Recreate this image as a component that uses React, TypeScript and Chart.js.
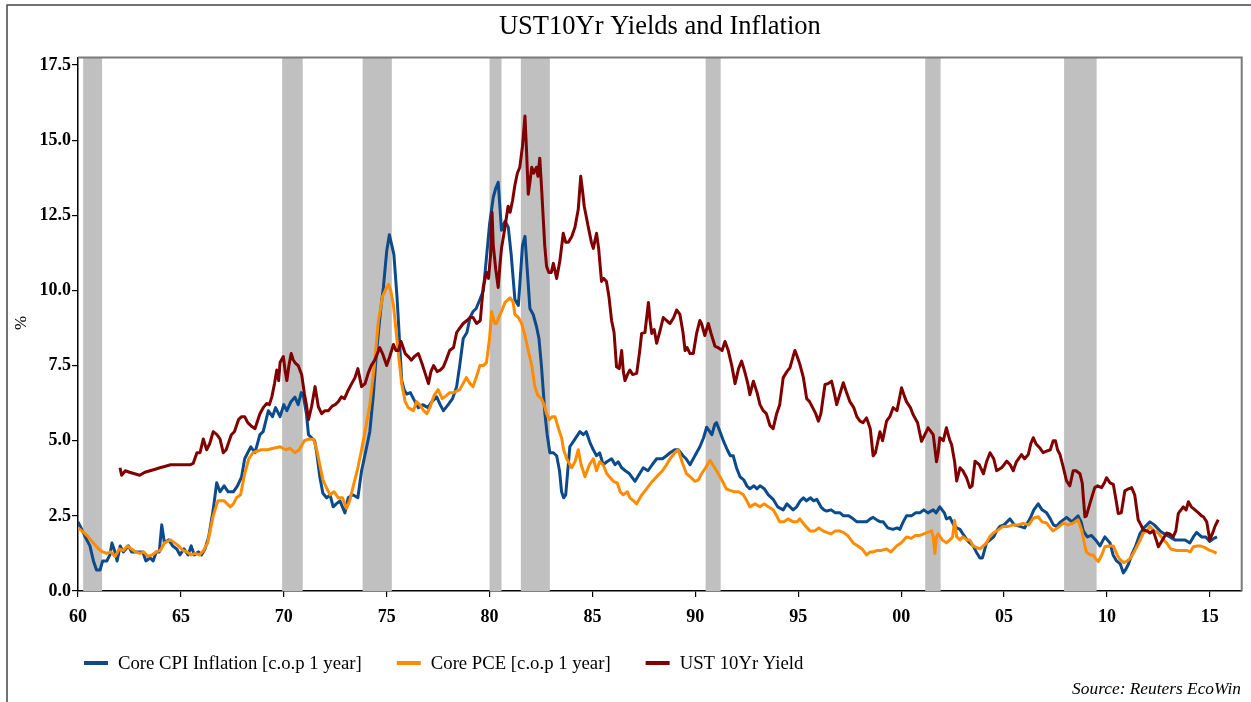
import React, { useEffect, useRef } from "react";
import { Chart, registerables } from "chart.js";

Chart.register(...registerables);

const TITLE = "UST10Yr Yields and Inflation";
const SOURCE = "Source: Reuters EcoWin";
const Y_LABEL = "%";
const SERIES_NAMES = ["Core CPI Inflation [c.o.p 1 year]", "Core PCE [c.o.p 1 year]", "UST 10Yr Yield"];
const SERIES_COLORS = ["#0b4a8b", "#ff8c00", "#800000"];

const xTickYears = [1960, 1965, 1970, 1975, 1980, 1985, 1990, 1995, 2000, 2005, 2010, 2015];
const xTickLabels = ["60", "65", "70", "75", "80", "85", "90", "95", "00", "05", "10", "15"];
const yTickValues = [0, 2.5, 5, 7.5, 10, 12.5, 15, 17.5];
const yTickLabels = ["0.0", "2.5", "5.0", "7.5", "10.0", "12.5", "15.0", "17.5"];

const recessionStarts = [1960.25, 1969.92, 1973.83, 1980.0, 1981.52, 1990.5, 2001.17, 2007.92];
const recessionEnds = [1961.17, 1970.92, 1975.25, 1980.58, 1982.93, 1991.23, 2001.92, 2009.5];

const coreCpi: [number, number][] = [
  [1960.0, 2.3], [1960.15, 2.1], [1960.35, 1.8], [1960.58, 1.5], [1960.75, 1.0], [1960.9, 0.7], [1961.07, 0.7],
  [1961.2, 1.0], [1961.4, 1.0], [1961.55, 1.2], [1961.65, 1.6], [1961.8, 1.3], [1961.9, 1.0], [1962.05, 1.5],
  [1962.2, 1.3], [1962.45, 1.5], [1962.6, 1.3], [1962.9, 1.3], [1963.15, 1.3], [1963.3, 1.0], [1963.5, 1.1],
  [1963.65, 1.0], [1963.8, 1.3], [1963.95, 1.3], [1964.07, 2.2], [1964.2, 1.6], [1964.4, 1.7], [1964.6, 1.5],
  [1964.8, 1.4], [1964.95, 1.2], [1965.15, 1.4], [1965.35, 1.2], [1965.5, 1.5], [1965.65, 1.2], [1965.85, 1.3],
  [1966.0, 1.2], [1966.17, 1.4], [1966.35, 1.8], [1966.57, 2.7], [1966.74, 3.6], [1966.9, 3.3], [1967.1, 3.5],
  [1967.3, 3.3], [1967.55, 3.3], [1967.75, 3.5], [1967.95, 3.8], [1968.1, 4.4], [1968.4, 4.8], [1968.6, 4.6],
  [1968.84, 5.2], [1969.0, 5.3], [1969.25, 6.0], [1969.45, 5.8], [1969.6, 6.1], [1969.82, 5.8], [1970.0, 6.2],
  [1970.15, 6.0], [1970.35, 6.3], [1970.54, 6.45], [1970.7, 6.2], [1970.85, 6.6], [1970.95, 6.5], [1971.1, 5.9],
  [1971.2, 5.2], [1971.35, 5.1], [1971.5, 5.0], [1971.6, 4.6], [1971.75, 3.8], [1971.9, 3.25], [1972.08, 3.1],
  [1972.25, 3.2], [1972.4, 2.8], [1972.55, 2.9], [1972.73, 3.0], [1972.85, 2.8], [1972.97, 2.6], [1973.13, 3.1],
  [1973.35, 3.2], [1973.6, 3.1], [1973.78, 4.0], [1974.0, 4.7], [1974.18, 5.3], [1974.35, 6.5], [1974.5, 7.9],
  [1974.7, 9.3], [1974.84, 10.1], [1975.0, 11.3], [1975.13, 11.85], [1975.25, 11.5], [1975.35, 11.2], [1975.5, 9.8],
  [1975.57, 9.0], [1975.73, 7.0], [1975.85, 6.7], [1975.97, 6.55], [1976.15, 6.6], [1976.3, 6.4], [1976.54, 6.1],
  [1976.75, 6.2], [1977.0, 6.1], [1977.2, 6.3], [1977.43, 6.46], [1977.6, 6.2], [1977.76, 6.0], [1977.99, 6.2],
  [1978.2, 6.4], [1978.4, 6.8], [1978.55, 7.5], [1978.72, 8.4], [1978.9, 8.6], [1979.05, 9.1], [1979.2, 9.3],
  [1979.35, 9.4], [1979.53, 9.7], [1979.7, 10.0], [1979.85, 11.1], [1980.0, 12.2], [1980.18, 13.1], [1980.3, 13.4],
  [1980.42, 13.6], [1980.5, 12.8], [1980.58, 12.0], [1980.75, 12.3], [1980.91, 12.1], [1981.05, 11.2], [1981.23, 9.7],
  [1981.4, 9.5], [1981.5, 10.5], [1981.6, 11.5], [1981.72, 11.8], [1981.85, 10.5], [1981.96, 9.4], [1982.12, 9.2],
  [1982.28, 8.8], [1982.4, 8.4], [1982.52, 7.5], [1982.69, 5.9], [1982.8, 5.2], [1982.93, 4.6], [1983.1, 4.6],
  [1983.26, 4.5], [1983.4, 4.0], [1983.5, 3.3], [1983.6, 3.1], [1983.7, 3.2], [1983.8, 4.0], [1983.9, 4.8],
  [1984.1, 5.0], [1984.39, 5.3], [1984.55, 5.2], [1984.7, 5.3], [1984.9, 4.9], [1985.04, 4.7], [1985.2, 4.5],
  [1985.35, 4.6], [1985.52, 4.2], [1985.7, 4.3], [1985.93, 4.4], [1986.1, 4.2], [1986.25, 4.3], [1986.42, 4.1],
  [1986.6, 4.0], [1986.8, 3.9], [1987.07, 3.65], [1987.2, 3.8], [1987.47, 4.1], [1987.7, 4.0], [1987.9, 4.2],
  [1988.12, 4.4], [1988.4, 4.4], [1988.6, 4.5], [1988.77, 4.6], [1989.0, 4.7], [1989.17, 4.7], [1989.4, 4.5],
  [1989.55, 4.4], [1989.74, 4.2], [1989.9, 4.4], [1990.06, 4.6], [1990.22, 4.8], [1990.4, 5.1], [1990.55, 5.45],
  [1990.7, 5.3], [1990.8, 5.2], [1990.95, 5.55], [1991.03, 5.6], [1991.2, 5.3], [1991.36, 5.0], [1991.55, 4.7],
  [1991.7, 4.5], [1991.84, 4.5], [1992.0, 4.1], [1992.17, 3.8], [1992.35, 3.7], [1992.5, 3.5], [1992.65, 3.4],
  [1992.85, 3.5], [1993.0, 3.4], [1993.14, 3.5], [1993.35, 3.4], [1993.55, 3.2], [1993.78, 3.05], [1994.0, 2.8],
  [1994.27, 2.7], [1994.45, 2.9], [1994.6, 2.8], [1994.75, 2.7], [1994.92, 2.8], [1995.1, 3.0], [1995.25, 3.1],
  [1995.4, 3.0], [1995.6, 3.1], [1995.75, 3.0], [1995.9, 3.05], [1996.1, 2.8], [1996.25, 2.7], [1996.38, 2.66],
  [1996.6, 2.7], [1996.8, 2.6], [1997.03, 2.6], [1997.2, 2.5], [1997.45, 2.5], [1997.67, 2.4], [1997.85, 2.3],
  [1998.1, 2.3], [1998.32, 2.3], [1998.5, 2.4], [1998.64, 2.45], [1998.85, 2.35], [1999.0, 2.3], [1999.13, 2.3],
  [1999.35, 2.1], [1999.6, 2.05], [1999.8, 2.1], [1999.94, 2.05], [2000.1, 2.3], [2000.26, 2.5], [2000.5, 2.5],
  [2000.7, 2.6], [2000.91, 2.6], [2001.1, 2.7], [2001.3, 2.6], [2001.56, 2.7], [2001.7, 2.6], [2001.88, 2.8],
  [2002.1, 2.6], [2002.2, 2.4], [2002.37, 2.45], [2002.55, 2.2], [2002.7, 2.1], [2002.86, 2.05], [2003.0, 1.9],
  [2003.2, 1.7], [2003.34, 1.6], [2003.5, 1.5], [2003.65, 1.3], [2003.83, 1.1], [2003.95, 1.1], [2004.15, 1.6],
  [2004.32, 1.7], [2004.5, 1.8], [2004.64, 2.0], [2004.8, 2.15], [2005.0, 2.2], [2005.29, 2.4], [2005.5, 2.2],
  [2005.77, 2.15], [2006.0, 2.1], [2006.26, 2.4], [2006.45, 2.7], [2006.66, 2.9], [2006.85, 2.7], [2007.07, 2.6],
  [2007.25, 2.4], [2007.4, 2.2], [2007.55, 2.15], [2007.75, 2.3], [2008.04, 2.45], [2008.3, 2.3], [2008.45, 2.4],
  [2008.6, 2.5], [2008.75, 2.3], [2008.85, 2.0], [2009.05, 1.8], [2009.25, 1.85], [2009.45, 1.7], [2009.66, 1.5],
  [2009.9, 1.8], [2010.15, 1.6], [2010.3, 1.2], [2010.47, 1.0], [2010.65, 0.9], [2010.8, 0.6], [2010.9, 0.7],
  [2011.05, 0.9], [2011.2, 1.2], [2011.4, 1.5], [2011.6, 1.9], [2011.8, 2.1], [2012.09, 2.3], [2012.3, 2.2],
  [2012.58, 2.0], [2012.8, 1.9], [2013.06, 1.8], [2013.3, 1.7], [2013.55, 1.7], [2013.8, 1.7], [2014.03, 1.6],
  [2014.2, 1.8], [2014.36, 1.95], [2014.6, 1.8], [2014.8, 1.8], [2015.0, 1.65], [2015.2, 1.75], [2015.35, 1.8],
];

const corePce: [number, number][] = [
  [1960.0, 2.1], [1960.2, 2.0], [1960.5, 1.8], [1960.75, 1.6], [1961.0, 1.4], [1961.2, 1.3], [1961.4, 1.25],
  [1961.6, 1.3], [1961.8, 1.15], [1962.0, 1.4], [1962.2, 1.35], [1962.4, 1.5], [1962.6, 1.4], [1962.8, 1.3],
  [1963.0, 1.25], [1963.2, 1.3], [1963.4, 1.15], [1963.6, 1.2], [1963.8, 1.3], [1964.0, 1.35], [1964.2, 1.6],
  [1964.5, 1.7], [1964.7, 1.6], [1964.9, 1.5], [1965.1, 1.35], [1965.3, 1.3], [1965.5, 1.2], [1965.7, 1.25],
  [1965.9, 1.2], [1966.1, 1.35], [1966.3, 1.6], [1966.57, 2.5], [1966.8, 3.0], [1967.1, 3.0], [1967.4, 2.8],
  [1967.55, 2.9], [1967.7, 3.1], [1967.9, 3.2], [1968.1, 3.9], [1968.3, 4.4], [1968.5, 4.6], [1968.9, 4.7],
  [1969.2, 4.7], [1969.5, 4.75], [1969.82, 4.8], [1970.1, 4.7], [1970.3, 4.75], [1970.54, 4.6], [1970.75, 4.7],
  [1971.0, 5.0], [1971.2, 5.05], [1971.45, 5.05], [1971.6, 4.7], [1971.75, 4.2], [1971.9, 3.7], [1972.1, 3.4],
  [1972.25, 3.2], [1972.45, 3.3], [1972.65, 3.1], [1972.85, 3.1], [1973.05, 2.75], [1973.2, 3.0], [1973.38, 3.5],
  [1973.6, 4.1], [1973.78, 4.7], [1974.0, 5.5], [1974.18, 6.2], [1974.4, 7.5], [1974.6, 9.0], [1974.8, 9.8],
  [1975.0, 10.1], [1975.1, 10.2], [1975.2, 10.0], [1975.33, 9.5], [1975.45, 8.7], [1975.57, 7.9], [1975.73, 6.9],
  [1975.9, 6.3], [1976.05, 6.1], [1976.3, 6.0], [1976.45, 6.3], [1976.6, 6.2], [1976.8, 6.0], [1976.95, 5.9],
  [1977.1, 6.1], [1977.3, 6.5], [1977.5, 6.7], [1977.7, 6.4], [1977.9, 6.5], [1978.06, 6.6], [1978.25, 6.6],
  [1978.55, 6.7], [1978.87, 7.1], [1979.05, 6.9], [1979.2, 6.8], [1979.4, 7.2], [1979.53, 7.5], [1979.7, 7.5],
  [1979.85, 7.6], [1980.0, 8.4], [1980.1, 9.3], [1980.25, 8.9], [1980.34, 8.9], [1980.45, 9.1], [1980.58, 9.3],
  [1980.75, 9.6], [1980.9, 9.7], [1981.0, 9.75], [1981.15, 9.6], [1981.23, 9.2], [1981.4, 9.1], [1981.56, 8.9],
  [1981.72, 8.5], [1981.88, 8.0], [1982.05, 7.5], [1982.2, 6.8], [1982.35, 6.5], [1982.52, 6.4], [1982.65, 6.2],
  [1982.77, 5.9], [1982.9, 5.7], [1983.05, 5.8], [1983.18, 5.8], [1983.35, 5.4], [1983.5, 5.1], [1983.6, 4.7],
  [1983.75, 4.4], [1983.99, 4.1], [1984.15, 4.3], [1984.31, 4.7], [1984.45, 4.2], [1984.64, 3.8], [1984.85, 4.2],
  [1985.04, 4.4], [1985.2, 4.0], [1985.35, 4.3], [1985.52, 4.2], [1985.7, 3.9], [1986.01, 3.65], [1986.2, 3.6],
  [1986.35, 3.3], [1986.5, 3.2], [1986.7, 3.3], [1986.82, 3.1], [1987.0, 3.0], [1987.15, 2.9], [1987.4, 3.2],
  [1987.63, 3.4], [1987.85, 3.6], [1988.12, 3.8], [1988.4, 4.0], [1988.6, 4.2], [1988.77, 4.4], [1989.0, 4.6],
  [1989.17, 4.7], [1989.35, 4.3], [1989.57, 3.9], [1989.75, 3.8], [1989.98, 3.65], [1990.15, 3.7], [1990.3, 3.9],
  [1990.5, 4.1], [1990.71, 4.35], [1990.85, 4.2], [1991.03, 4.0], [1991.2, 3.8], [1991.36, 3.6], [1991.5, 3.4],
  [1991.68, 3.35], [1991.9, 3.3], [1992.1, 3.3], [1992.33, 3.2], [1992.5, 3.0], [1992.65, 2.8], [1992.9, 2.9],
  [1993.14, 2.8], [1993.35, 2.9], [1993.55, 2.8], [1993.78, 2.7], [1993.95, 2.5], [1994.1, 2.3], [1994.3, 2.3],
  [1994.5, 2.4], [1994.76, 2.3], [1994.95, 2.3], [1995.08, 2.4], [1995.3, 2.2], [1995.57, 2.0], [1995.8, 2.0],
  [1996.0, 2.1], [1996.2, 2.0], [1996.38, 1.95], [1996.6, 1.9], [1996.8, 2.0], [1997.0, 2.0], [1997.19, 1.95],
  [1997.4, 1.85], [1997.67, 1.6], [1997.9, 1.5], [1998.1, 1.4], [1998.32, 1.2], [1998.5, 1.3], [1998.64, 1.3],
  [1998.85, 1.35], [1999.05, 1.35], [1999.29, 1.4], [1999.5, 1.3], [1999.78, 1.5], [2000.0, 1.6], [2000.26, 1.8],
  [2000.5, 1.75], [2000.7, 1.85], [2000.91, 1.85], [2001.1, 1.9], [2001.3, 1.95], [2001.48, 2.0], [2001.56, 1.8],
  [2001.64, 1.25], [2001.72, 1.8], [2001.8, 1.9], [2002.0, 1.7], [2002.2, 1.6], [2002.37, 1.7], [2002.5, 1.8],
  [2002.6, 2.35], [2002.7, 1.8], [2002.86, 1.7], [2003.0, 1.8], [2003.2, 1.7], [2003.34, 1.7], [2003.5, 1.5],
  [2003.65, 1.45], [2003.83, 1.4], [2004.0, 1.5], [2004.15, 1.6], [2004.3, 1.8], [2004.48, 1.93], [2004.65, 2.0],
  [2004.96, 2.15], [2005.2, 2.15], [2005.45, 2.2], [2005.7, 2.2], [2005.93, 2.25], [2006.2, 2.2], [2006.42, 2.42],
  [2006.66, 2.47], [2006.85, 2.3], [2007.07, 2.26], [2007.25, 2.1], [2007.39, 2.0], [2007.6, 2.1], [2007.88, 2.26],
  [2008.1, 2.2], [2008.36, 2.26], [2008.6, 2.37], [2008.77, 2.03], [2008.9, 1.6], [2009.0, 1.3], [2009.2, 1.2],
  [2009.33, 1.2], [2009.48, 1.05], [2009.58, 0.98], [2009.75, 1.2], [2009.9, 1.47], [2010.1, 1.5], [2010.31, 1.5],
  [2010.5, 1.2], [2010.63, 1.05], [2010.8, 0.95], [2010.96, 0.98], [2011.15, 1.1], [2011.36, 1.35], [2011.55, 1.6],
  [2011.77, 1.93], [2011.95, 2.0], [2012.09, 2.15], [2012.3, 2.0], [2012.5, 1.93], [2012.7, 1.75], [2012.9, 1.6],
  [2013.1, 1.4], [2013.39, 1.35], [2013.6, 1.35], [2013.87, 1.35], [2014.05, 1.3], [2014.2, 1.47], [2014.4, 1.5],
  [2014.52, 1.5], [2014.75, 1.45], [2015.0, 1.35], [2015.2, 1.3], [2015.33, 1.25],
];

const ust10y: [number, number][] = [
  [1962.04, 4.1], [1962.12, 3.85], [1962.3, 4.0], [1962.5, 3.95], [1962.75, 3.9], [1963.0, 3.85], [1963.25, 3.95],
  [1963.5, 4.0], [1963.75, 4.05], [1963.98, 4.1], [1964.25, 4.15], [1964.5, 4.2], [1964.75, 4.2], [1965.0, 4.2],
  [1965.25, 4.2], [1965.44, 4.2], [1965.6, 4.25], [1965.78, 4.6], [1965.93, 4.6], [1966.09, 5.06], [1966.25, 4.7],
  [1966.4, 4.9], [1966.57, 5.3], [1966.75, 5.2], [1966.9, 5.06], [1967.06, 4.6], [1967.2, 4.7], [1967.45, 5.2],
  [1967.6, 5.3], [1967.8, 5.7], [1967.95, 5.8], [1968.1, 5.8], [1968.25, 5.6], [1968.4, 5.5], [1968.6, 5.4],
  [1968.84, 5.9], [1969.0, 6.1], [1969.17, 6.24], [1969.3, 6.2], [1969.42, 6.46], [1969.55, 6.9], [1969.66, 7.35],
  [1969.75, 7.0], [1969.82, 7.6], [1969.98, 7.8], [1970.07, 7.3], [1970.15, 7.0], [1970.25, 7.5], [1970.36, 7.9],
  [1970.45, 7.7], [1970.54, 7.6], [1970.7, 7.5], [1970.87, 7.2], [1971.0, 6.57], [1971.1, 6.2], [1971.2, 5.7],
  [1971.35, 6.13], [1971.52, 6.8], [1971.68, 6.13], [1971.84, 5.9], [1972.0, 6.0], [1972.17, 6.0], [1972.35, 6.15],
  [1972.5, 6.2], [1972.65, 6.3], [1972.8, 6.46], [1972.95, 6.4], [1973.13, 6.68], [1973.3, 6.9], [1973.46, 7.1],
  [1973.6, 7.4], [1973.78, 6.8], [1973.95, 6.9], [1974.1, 7.24], [1974.25, 7.5], [1974.42, 7.68], [1974.55, 7.9],
  [1974.66, 8.1], [1974.8, 7.9], [1974.9, 7.7], [1975.0, 7.5], [1975.15, 7.8], [1975.33, 8.2], [1975.45, 8.0],
  [1975.57, 8.0], [1975.7, 8.3], [1975.9, 7.9], [1976.05, 7.8], [1976.2, 7.68], [1976.35, 7.8], [1976.54, 7.9],
  [1976.7, 7.6], [1976.87, 7.24], [1977.03, 6.9], [1977.15, 7.3], [1977.28, 7.5], [1977.45, 7.3], [1977.6, 7.35],
  [1977.75, 7.45], [1977.9, 7.7], [1978.06, 8.0], [1978.25, 8.1], [1978.4, 8.6], [1978.5, 8.7], [1978.72, 8.9],
  [1978.9, 9.0], [1979.05, 9.1], [1979.2, 9.1], [1979.37, 8.9], [1979.55, 9.0], [1979.69, 10.1], [1979.85, 10.6],
  [1979.95, 10.4], [1980.05, 11.2], [1980.12, 12.6], [1980.18, 11.5], [1980.3, 10.7], [1980.42, 10.1], [1980.5, 10.8],
  [1980.58, 11.4], [1980.75, 12.1], [1980.9, 12.8], [1981.0, 12.6], [1981.12, 13.0], [1981.23, 13.5], [1981.35, 13.9],
  [1981.47, 14.1], [1981.6, 14.8], [1981.72, 15.8], [1981.8, 14.6], [1981.88, 13.2], [1981.96, 13.6], [1982.05, 14.1],
  [1982.15, 13.9], [1982.28, 14.1], [1982.35, 13.8], [1982.44, 14.4], [1982.52, 13.5], [1982.6, 12.5], [1982.68, 11.5],
  [1982.77, 10.8], [1982.88, 10.6], [1983.0, 10.6], [1983.1, 10.9], [1983.26, 10.4], [1983.42, 11.0], [1983.58, 11.9],
  [1983.7, 11.6], [1983.83, 11.6], [1984.0, 11.8], [1984.15, 12.1], [1984.31, 12.7], [1984.43, 13.8], [1984.52, 13.3],
  [1984.6, 12.8], [1984.8, 12.1], [1984.95, 11.6], [1985.04, 11.4], [1985.2, 11.9], [1985.3, 11.4], [1985.44, 10.3],
  [1985.55, 10.4], [1985.68, 10.3], [1985.8, 9.8], [1985.93, 9.0], [1986.05, 8.6], [1986.17, 7.46], [1986.3, 7.4],
  [1986.42, 8.0], [1986.5, 7.3], [1986.58, 7.0], [1986.7, 7.2], [1986.82, 7.35], [1986.95, 7.2], [1987.15, 7.24],
  [1987.3, 8.0], [1987.39, 8.57], [1987.55, 8.6], [1987.72, 9.6], [1987.8, 9.0], [1987.88, 8.57], [1988.0, 8.7],
  [1988.12, 8.24], [1988.3, 8.7], [1988.44, 9.1], [1988.6, 9.0], [1988.77, 8.9], [1988.95, 9.1], [1989.09, 9.35],
  [1989.25, 9.2], [1989.4, 8.6], [1989.5, 8.0], [1989.6, 8.1], [1989.74, 7.9], [1989.9, 7.9], [1990.06, 8.57],
  [1990.22, 9.0], [1990.3, 8.9], [1990.46, 8.5], [1990.63, 8.9], [1990.75, 8.6], [1990.95, 8.15], [1991.1, 8.1],
  [1991.3, 8.0], [1991.44, 8.3], [1991.6, 8.0], [1991.77, 7.5], [1991.93, 6.9], [1992.1, 7.4], [1992.25, 7.65],
  [1992.4, 7.3], [1992.55, 6.9], [1992.65, 6.53], [1992.82, 6.98], [1993.0, 6.6], [1993.14, 6.2], [1993.3, 6.0],
  [1993.45, 5.9], [1993.63, 5.5], [1993.78, 5.4], [1993.95, 5.9], [1994.1, 6.2], [1994.27, 7.1], [1994.45, 7.3],
  [1994.6, 7.43], [1994.75, 7.8], [1994.84, 8.0], [1994.95, 7.8], [1995.08, 7.54], [1995.25, 7.1], [1995.41, 6.4],
  [1995.55, 6.3], [1995.7, 6.1], [1995.85, 5.9], [1995.98, 5.65], [1996.1, 5.9], [1996.3, 6.87], [1996.45, 6.9],
  [1996.62, 6.98], [1996.75, 6.6], [1996.87, 6.2], [1997.0, 6.5], [1997.19, 6.93], [1997.35, 6.6], [1997.51, 6.3],
  [1997.7, 6.1], [1997.85, 5.8], [1998.0, 5.65], [1998.15, 5.6], [1998.32, 5.76], [1998.5, 5.4], [1998.64, 4.5],
  [1998.75, 4.6], [1998.97, 5.3], [1999.1, 5.0], [1999.29, 5.65], [1999.45, 5.8], [1999.61, 6.1], [1999.8, 6.0],
  [2000.02, 6.76], [2000.15, 6.5], [2000.26, 6.3], [2000.45, 6.1], [2000.58, 5.87], [2000.8, 5.6], [2000.99, 4.98],
  [2001.15, 5.2], [2001.31, 5.43], [2001.45, 5.3], [2001.56, 5.2], [2001.72, 4.3], [2001.8, 4.6], [2001.88, 5.1],
  [2002.05, 5.0], [2002.2, 5.43], [2002.37, 5.0], [2002.45, 4.88], [2002.6, 4.3], [2002.7, 3.66], [2002.86, 4.1],
  [2003.0, 4.0], [2003.18, 3.77], [2003.34, 3.44], [2003.45, 3.5], [2003.59, 4.32], [2003.8, 4.2], [2004.0, 3.9],
  [2004.15, 4.3], [2004.32, 4.6], [2004.5, 4.4], [2004.64, 4.0], [2004.88, 4.1], [2005.0, 4.2], [2005.13, 4.32],
  [2005.3, 4.2], [2005.45, 4.0], [2005.6, 4.3], [2005.85, 4.54], [2006.0, 4.4], [2006.18, 4.54], [2006.3, 4.9],
  [2006.42, 5.1], [2006.55, 4.9], [2006.74, 4.76], [2006.9, 4.6], [2007.07, 4.65], [2007.25, 4.7], [2007.39, 5.0],
  [2007.5, 5.0], [2007.6, 4.7], [2007.72, 4.54], [2007.85, 4.2], [2008.04, 3.66], [2008.2, 3.5], [2008.36, 4.0],
  [2008.5, 4.0], [2008.69, 3.9], [2008.8, 3.6], [2008.93, 2.47], [2009.0, 2.5], [2009.17, 2.9], [2009.3, 3.2],
  [2009.41, 3.44], [2009.55, 3.5], [2009.74, 3.44], [2009.88, 3.6], [2009.98, 3.77], [2010.15, 3.6], [2010.31, 3.55],
  [2010.45, 3.0], [2010.55, 2.58], [2010.7, 2.6], [2010.87, 3.33], [2011.05, 3.4], [2011.2, 3.44], [2011.35, 3.2],
  [2011.52, 2.37], [2011.65, 2.2], [2011.77, 2.03], [2011.95, 2.0], [2012.09, 1.93], [2012.25, 2.0], [2012.4, 1.7],
  [2012.5, 1.47], [2012.7, 1.7], [2012.9, 1.93], [2013.05, 1.9], [2013.22, 1.8], [2013.35, 2.0], [2013.47, 2.58],
  [2013.6, 2.7], [2013.71, 2.8], [2013.85, 2.7], [2013.96, 2.97], [2014.1, 2.8], [2014.28, 2.7], [2014.45, 2.6],
  [2014.6, 2.5], [2014.69, 2.47], [2014.85, 2.3], [2015.0, 1.7], [2015.15, 1.95], [2015.25, 2.15], [2015.41, 2.37],
];

const SERIF = '"Liberation Serif", "DejaVu Serif", serif';

function fitSize(ctx: CanvasRenderingContext2D, text: string, style: string, target: number) {
  ctx.font = `${style} 100px ${SERIF}`;
  const w = ctx.measureText(text).width;
  return (100 * target) / w;
}

const decorPlugin = {
  id: "decor",
  beforeDatasetsDraw(chart: any) {
    const { ctx, chartArea, scales } = chart;
    const xs = scales.x;
    ctx.save();
    ctx.fillStyle = "#c0c0c0";
    for (let i = 0; i < recessionStarts.length; i++) {
      const x0 = xs.getPixelForValue(recessionStarts[i]);
      const x1 = xs.getPixelForValue(recessionEnds[i]);
      ctx.fillRect(x0, chartArea.top, x1 - x0, chartArea.bottom - chartArea.top);
    }
    ctx.restore();
  },
  afterDraw(chart: any) {
    const { ctx, chartArea } = chart;
    ctx.save();
    // outer frame
    ctx.strokeStyle = "#444";
    ctx.lineWidth = 1.5;
    ctx.beginPath();
    ctx.moveTo(7, 702);
    ctx.lineTo(7, 5);
    ctx.lineTo(1251, 5);
    ctx.stroke();
    // plot box top/right
    ctx.strokeStyle = "#7a7a7a";
    ctx.lineWidth = 2;
    ctx.beginPath();
    ctx.moveTo(chartArea.left, chartArea.top);
    ctx.lineTo(chartArea.right, chartArea.top);
    ctx.lineTo(chartArea.right, chartArea.bottom);
    ctx.stroke();

    ctx.fillStyle = "#000";
    ctx.textBaseline = "middle";
    // title
    const ts = fitSize(ctx, TITLE, "normal", 322);
    ctx.font = `normal ${ts}px ${SERIF}`;
    ctx.textAlign = "center";
    ctx.fillText(TITLE, (chartArea.left + chartArea.right) / 2, 27);

    // y label
    ctx.save();
    ctx.translate(22, 323);
    ctx.rotate(-Math.PI / 2);
    ctx.font = `normal 17px ${SERIF}`;
    ctx.textAlign = "center";
    ctx.fillText(Y_LABEL, 0, 0);
    ctx.restore();

    // legend
    const ls = fitSize(ctx, SERIES_NAMES[0], "normal", 244);
    ctx.font = `normal ${ls}px ${SERIF}`;
    ctx.textAlign = "left";
    let x = 84;
    const y = 663;
    for (let i = 0; i < SERIES_NAMES.length; i++) {
      ctx.strokeStyle = SERIES_COLORS[i];
      ctx.lineWidth = 4;
      ctx.beginPath();
      ctx.moveTo(x, y);
      ctx.lineTo(x + 24, y);
      ctx.stroke();
      ctx.fillText(SERIES_NAMES[i], x + 34, y + 1);
      x += 34 + ctx.measureText(SERIES_NAMES[i]).width + 35;
    }

    // source
    const ss = fitSize(ctx, SOURCE, "italic", 169);
    ctx.font = `italic ${ss}px ${SERIF}`;
    ctx.textAlign = "right";
    ctx.fillText(SOURCE, 1241, 689);
    ctx.restore();
  },
};

export default function App() {
  const ref = useRef<HTMLCanvasElement>(null);
  useEffect(() => {
    const makeSet = (i: number, pts: [number, number][], order: number) => ({
      label: SERIES_NAMES[i],
      data: pts.map(([x, y]) => ({ x, y })),
      borderColor: SERIES_COLORS[i],
      backgroundColor: SERIES_COLORS[i],
      borderWidth: 3,
      pointRadius: 0,
      tension: 0,
      fill: false,
      order,
      borderJoinStyle: "round" as const,
    });
    const tickFont = { family: SERIF, size: 18, weight: "bold" as const };
    const chart = new Chart(ref.current!, {
      type: "line",
      data: {
        datasets: [makeSet(0, coreCpi, 2), makeSet(1, corePce, 1), makeSet(2, ust10y, 0)],
      },
      options: {
        animation: false,
        responsive: false,
        maintainAspectRatio: false,
        events: [],
        layout: { padding: { left: 8, right: 9.3, top: 57.5, bottom: 71 } },
        plugins: { legend: { display: false }, title: { display: false }, tooltip: { enabled: false } },
        scales: {
          x: {
            type: "linear",
            min: 1960,
            max: 2016.55,
            afterFit: (s: any) => { s.height = 40; },
            afterBuildTicks: (s: any) => { s.ticks = xTickYears.map((v) => ({ value: v })); },
            ticks: {
              font: tickFont,
              color: "#000",
              padding: 10,
              maxRotation: 0,
              autoSkip: false,
              callback: (_v: any, i: number) => xTickLabels[i],
            },
            grid: { display: true, drawOnChartArea: false, drawTicks: true, tickLength: 6, color: "#000", lineWidth: 1.2 },
            border: { display: true, color: "#000", width: 1.5 },
          },
          y: {
            type: "linear",
            min: 0,
            max: 17.75,
            afterFit: (s: any) => { s.width = 70; },
            afterBuildTicks: (s: any) => { s.ticks = yTickValues.map((v) => ({ value: v })); },
            ticks: {
              font: tickFont,
              color: "#000",
              padding: 1,
              autoSkip: false,
              callback: (_v: any, i: number) => yTickLabels[i],
            },
            grid: { display: true, drawOnChartArea: false, drawTicks: true, tickLength: 6, color: "#000", lineWidth: 1.2 },
            border: { display: true, color: "#000", width: 1.5 },
          },
        },
      },
      plugins: [decorPlugin],
    } as any);
    return () => chart.destroy();
  }, []);
  return (
    <div style={{ position: "fixed", left: 0, top: 0, width: 1251, height: 702, background: "#fff" }}>
      <canvas ref={ref} width={1251} height={702} style={{ display: "block", width: 1251, height: 702 }} />
    </div>
  );
}
